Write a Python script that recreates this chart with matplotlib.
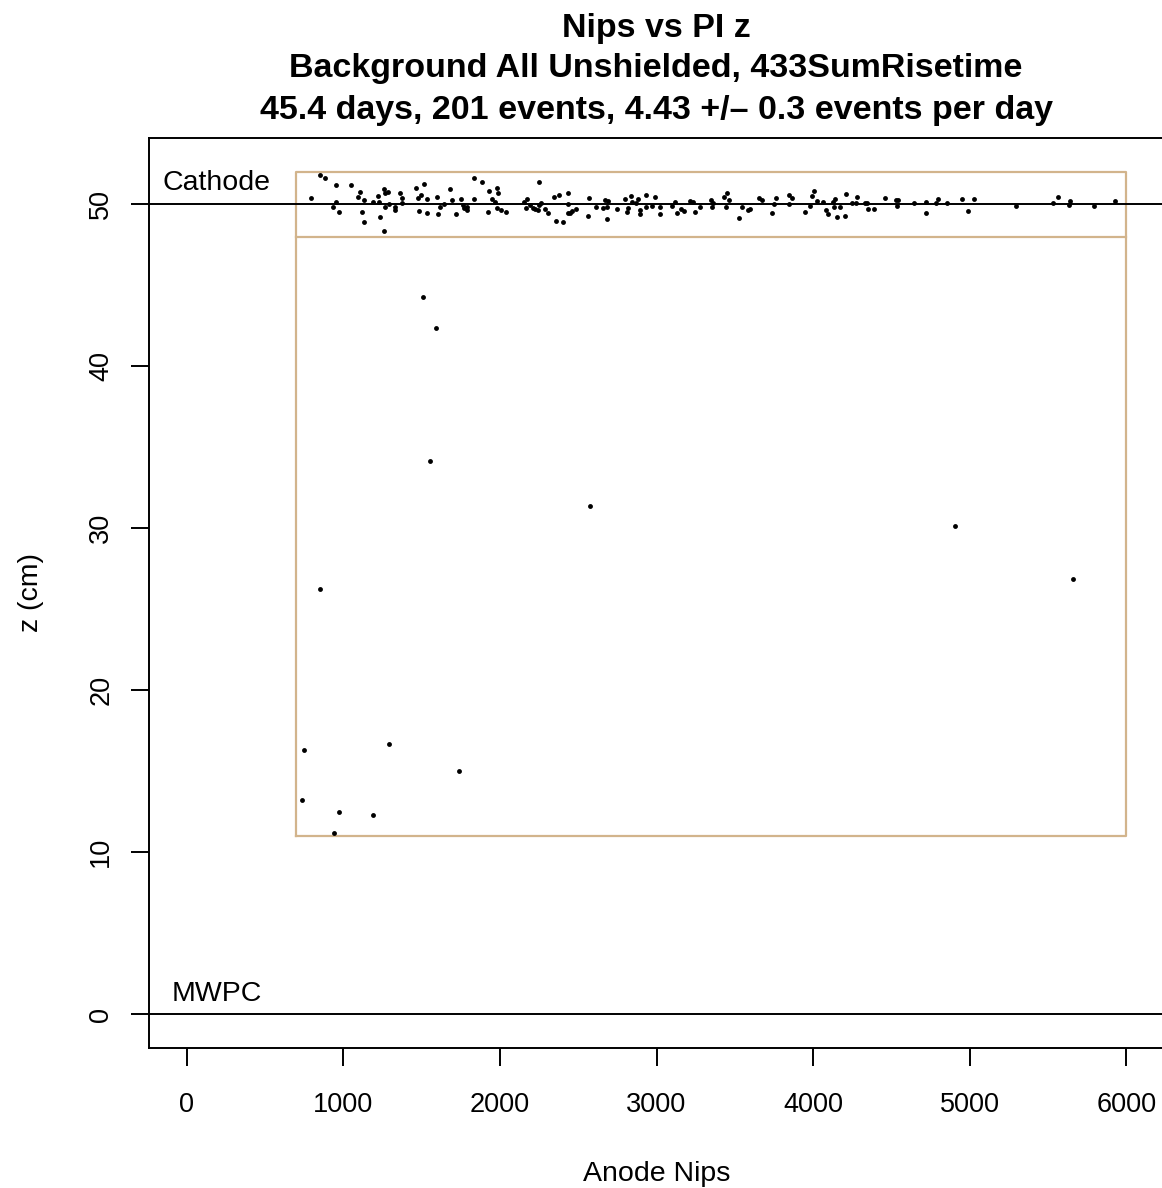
import matplotlib
matplotlib.use("Agg")
import matplotlib.pyplot as plt

plt.rcParams['font.family'] = ['Liberation Sans', 'DejaVu Sans']

# ---- data ----
title_lines = ["Nips vs PI z",
               "Background All Unshielded, 433SumRisetime",
               "45.4 days, 201 events, 4.43 +/\u2013 0.3 events per day"]
x_label = "Anode Nips"
y_label = "z (cm)"
x_ticks = [0, 1000, 2000, 3000, 4000, 5000, 6000]
y_ticks = [0, 10, 20, 30, 40, 50]

# events near the cathode
nips_cathode = [854, 886, 954, 1052, 793, 954, 935, 976, 1092, 1109, 1135, 1122, 1135,
                1188, 1222, 1226, 1232, 1258, 1262, 1267, 1288, 1267, 1292, 1333, 1333,
                1360, 1375, 1375, 1462, 1496, 1477, 1486, 1517, 1535, 1532, 1600, 1615,
                1602, 1645, 1683, 1696, 1717, 1749, 1764, 1773, 1790, 1790, 1834, 1836,
                1883, 1930, 1947, 1927, 1972, 1983, 1987, 1981, 2010, 2040, 2153, 2176,
                2168, 2193, 2212, 2227, 2251, 2262, 2251, 2246, 2285, 2310, 2348, 2380,
                2357, 2402, 2438, 2438, 2434, 2448, 2463, 2487, 2570, 2565, 2614, 2657,
                2672, 2689, 2682, 2684, 2746, 2801, 2837, 2816, 2810, 2846, 2869, 2884,
                2895, 2895, 2931, 2933, 2971, 2988, 3022, 3022, 3097, 3118, 3129, 3154,
                3175, 3214, 3231, 3245, 3277, 3346, 3358, 3354, 3430, 3448, 3441, 3464,
                3526, 3543, 3585, 3596, 3655, 3671, 3736, 3749, 3764, 3843, 3862, 3845,
                3949, 3979, 3990, 4006, 4023, 4062, 4079, 4098, 4127, 4138, 4132, 4155,
                4174, 4206, 4208, 4245, 4272, 4278, 4329, 4344, 4350, 4389, 4457, 4531,
                4544, 4535, 4646, 4720, 4723, 4782, 4797, 4854, 4952, 4988, 5024, 5292,
                5532, 5564, 5643, 5636, 5796, 5928]
z_cathode = [51.8, 51.6, 51.2, 51.2, 50.4, 50.1, 49.8, 49.5, 50.45, 50.76, 50.25, 49.49, 48.87,
             50.14, 50.51, 50.14, 49.22, 48.35, 50.91, 50.66, 50.76, 49.83, 50.0, 49.83, 49.63,
             50.66, 50.39, 50.04, 50.97, 50.55, 50.39, 49.59, 51.25, 50.31, 49.46, 50.45, 49.83,
             49.4, 49.98, 50.94, 50.27, 49.36, 50.33, 49.94, 49.77, 49.83, 49.63, 51.62, 50.33,
             51.37, 50.82, 50.33, 49.53, 50.1, 50.97, 50.66, 49.77, 49.63, 49.49, 50.1, 50.31,
             49.73, 49.94, 49.73, 49.67, 51.37, 50.08, 49.94, 49.63, 49.69, 49.43, 50.45, 50.55,
             48.95, 48.87, 50.66, 49.46, 49.98, 49.43, 49.59, 49.67, 50.35, 49.28, 49.83, 49.77,
             50.25, 50.18, 49.83, 49.08, 49.69, 50.31, 50.51, 49.77, 49.53, 50.14, 50.04, 50.31,
             49.63, 49.36, 50.55, 49.83, 49.88, 50.45, 49.83, 49.36, 49.88, 50.14, 49.43, 49.67,
             49.57, 50.2, 50.1, 49.53, 49.83, 50.25, 50.04, 49.83, 50.45, 50.66, 49.83, 50.25,
             49.16, 49.83, 49.63, 49.69, 50.39, 50.25, 49.46, 49.98, 50.39, 50.55, 50.39, 49.98,
             49.53, 49.88, 50.51, 50.82, 50.2, 50.14, 49.63, 49.36, 50.14, 50.31, 49.83, 49.22,
             49.83, 49.28, 50.6, 50.04, 50.04, 50.45, 50.04, 50.08, 49.69, 49.69, 50.39, 50.25,
             50.25, 49.9, 50.08, 50.14, 49.43, 50.04, 50.31, 50.08, 50.31, 49.59, 50.31, 49.9,
             50.04, 50.45, 50.2, 49.94, 49.9, 50.2]

# events in the bulk volume
nips_bulk = [1511, 1594, 1556, 2576, 4903, 5656, 854, 748, 1294, 1736, 735, 971, 1188, 939]
z_bulk = [44.27, 42.36, 34.16, 31.38, 30.15, 26.88, 26.26, 16.34, 16.66, 15.0, 13.21, 12.47,
          12.33, 11.16]

# reference lines and cut box
cathode_z = 50
mwpc_z = 0
cut_nips = [700, 6000]
cut_z = [11, 52]
cathode_cut_z = 48

# ---- figure ----
W, H = 1162, 1188
fig = plt.figure(figsize=(W / 100, H / 100), dpi=100)
ax = fig.add_axes([149 / W, 140 / H, (1164 - 149) / W, (1048 - 138) / H])

ax.set_xlim(-240, 6240)
ax.set_ylim(-2.08, 54.08)

tan = '#D2B48C'
ax.axhline(cathode_z, color='black', lw=1.4, zorder=2)
ax.axhline(mwpc_z, color='black', lw=1.4, zorder=2)

x0, x1 = cut_nips
y0, y1 = cut_z
ax.plot([x0, x1, x1, x0, x0], [y0, y0, y1, y1, y0], color=tan, lw=1.6, zorder=1)
ax.plot([x0, x1], [cathode_cut_z, cathode_cut_z], color=tan, lw=1.6, zorder=1)

ax.plot(nips_cathode, z_cathode, 'o', color='black', ms=3.5, mew=0, zorder=3)
ax.plot(nips_bulk, z_bulk, 'o', color='black', ms=3.5, mew=0, zorder=3)

ax.text(-152, 50.86, "Cathode", fontsize=20.5, ha='left', va='baseline')
ax.text(-93, 0.82, "MWPC", fontsize=20.5, ha='left', va='baseline')

for s in ax.spines.values():
    s.set_linewidth(1.4)

ax.set_xticks(x_ticks)
ax.set_yticks(y_ticks)
ax.tick_params(axis='both', direction='out', length=13, width=1.4, labelsize=19.5)
ax.tick_params(axis='x', pad=19)
ax.tick_params(axis='y', pad=12)
for lab in ax.get_yticklabels():
    lab.set_rotation(90)
    lab.set_va('center')

ax.set_xlabel(x_label, fontsize=20.5)
ax.set_ylabel(y_label, fontsize=20.5)
ax.xaxis.set_label_coords(0.5, (1048 - 1161) / 910)
ax.yaxis.set_label_coords((44 - 149) / 1015, 0.5)

cx = 656 / W
for txt, yb in zip(title_lines, [37, 77, 119]):
    fig.text(cx, 1 - yb / H, txt, fontsize=24.5, fontweight='bold',
             ha='center', va='baseline')

fig.savefig("out.png", dpi=100)
